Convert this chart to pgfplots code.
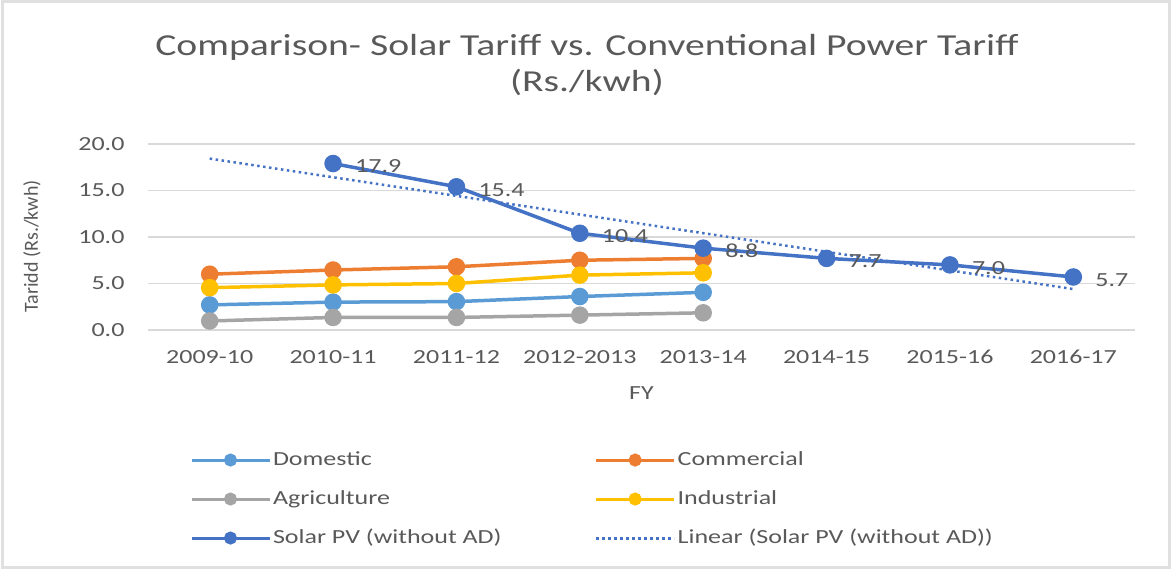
\documentclass[border=0pt]{standalone}
\usepackage{fontspec}
\setmainfont{Carlito}[FakeStretch=1.3]
\newfontfamily\plainfont{Carlito}
\usepackage{pgfplots}
\pgfplotsset{compat=1.18}
\definecolor{txt}{HTML}{595959}
\definecolor{gridc}{HTML}{D9D9D9}
\definecolor{cdom}{HTML}{5B9BD5}
\definecolor{ccom}{HTML}{ED7D31}
\definecolor{cagr}{HTML}{A5A5A5}
\definecolor{cind}{HTML}{FFC000}
\definecolor{csol}{HTML}{4472C4}
\definecolor{framec}{HTML}{E0E0E0}
\begin{document}
\begin{tikzpicture}[x=1pt,y=1pt]
\useasboundingbox (0,0) rectangle (1172,570);
\draw[framec, line width=3pt] (2,3) rectangle (1169,568);
\node[txt, align=center, font=\fontsize{30.5}{36}\selectfont] at (587,505) {Comparison- Solar Tariff vs. Conventional Power Tariff\\(Rs./kwh)};
\begin{axis}[
  at={(148pt,240pt)}, anchor=south west, scale only axis,
  width=987pt, height=186pt,
  xmin=-0.5, xmax=7.5, ymin=0, ymax=20,
  xtick={0,...,7},
  xticklabels={2009-10,2010-11,2011-12,2012-2013,2013-14,2014-15,2015-16,2016-17},
  ytick={0,5,10,15,20}, yticklabels={0.0,5.0,10.0,15.0,20.0},
  axis line style={draw=none}, major tick length=0pt,
  ymajorgrids, grid style={gridc, line width=1.5pt},
  ticklabel style={text=txt, font=\fontsize{20}{24}\selectfont},
  xticklabel style={anchor=center, yshift=-27pt},
  yticklabel style={anchor=east, xshift=-20pt},
  xlabel={FY},
  xlabel style={at={(axis description cs:0.5,-0.3387)}, anchor=center, text=txt, font=\fontsize{20}{24}\selectfont},
  ylabel={Taridd (Rs./kwh)},
  ylabel style={at={(axis description cs:-0.1175,0.45)}, anchor=center, text=txt, font=\plainfont\fontsize{20}{24}\selectfont},
  clip=false,
  legend columns=2,
  legend cell align=left,
  legend style={draw=none, fill=none, inner sep=0pt, outer sep=0pt,
    at={(axis description cs:0.04255,-0.64)}, anchor=north west,
    font=\fontsize{20}{24}\selectfont, text=txt,
    nodes={inner sep=2pt, text height=14pt, text depth=4pt},
    /tikz/every even column/.append style={column sep=91pt},
    row sep=17pt},
  legend image code/.code={\draw[#1, line width=3pt, mark size=5pt, mark repeat=2, mark phase=2] plot coordinates {(0pt,0pt) (39pt,0pt) (78pt,0pt)};},
  every axis plot/.append style={line width=3.5pt, mark=*, mark size=7pt, mark options={line width=0pt}},
]
\addplot[cdom, mark options={fill=cdom, draw=cdom}] coordinates {(0,2.7) (1,3.0) (2,3.05) (3,3.6) (4,4.05)};
\addlegendentry{Domestic}
\addplot[ccom, mark options={fill=ccom, draw=ccom}] coordinates {(0,6.0) (1,6.45) (2,6.8) (3,7.5) (4,7.7)};
\addlegendentry{Commercial}
\addplot[cagr, mark options={fill=cagr, draw=cagr}] coordinates {(0,0.97) (1,1.35) (2,1.35) (3,1.6) (4,1.85)};
\addlegendentry{Agriculture}
\addplot[cind, mark options={fill=cind, draw=cind}] coordinates {(0,4.55) (1,4.85) (2,5.0) (3,5.9) (4,6.15)};
\addlegendentry{Industrial}
\addplot[csol, mark options={fill=csol, draw=csol},
  nodes near coords={\pgfmathprintnumber[fixed,fixed zerofill,precision=1,assume math mode=true]{\pgfplotspointmeta}},
  every node near coord/.append style={anchor=west, xshift=17pt, yshift=-3pt, text=txt, font=\fontsize{20}{24}\selectfont}]
  coordinates {(1,17.9) (2,15.4) (3,10.4) (4,8.8) (5,7.7) (6,7.0) (7,5.7)};
\addlegendentry{Solar PV (without AD)}
\addplot[csol, no marks, line width=2.5pt, dash pattern=on 2.5pt off 3.5pt] coordinates {(0,18.43) (7,4.40)};
\addlegendentry{Linear (Solar PV (without AD))}
\end{axis}
\end{tikzpicture}
\end{document}
